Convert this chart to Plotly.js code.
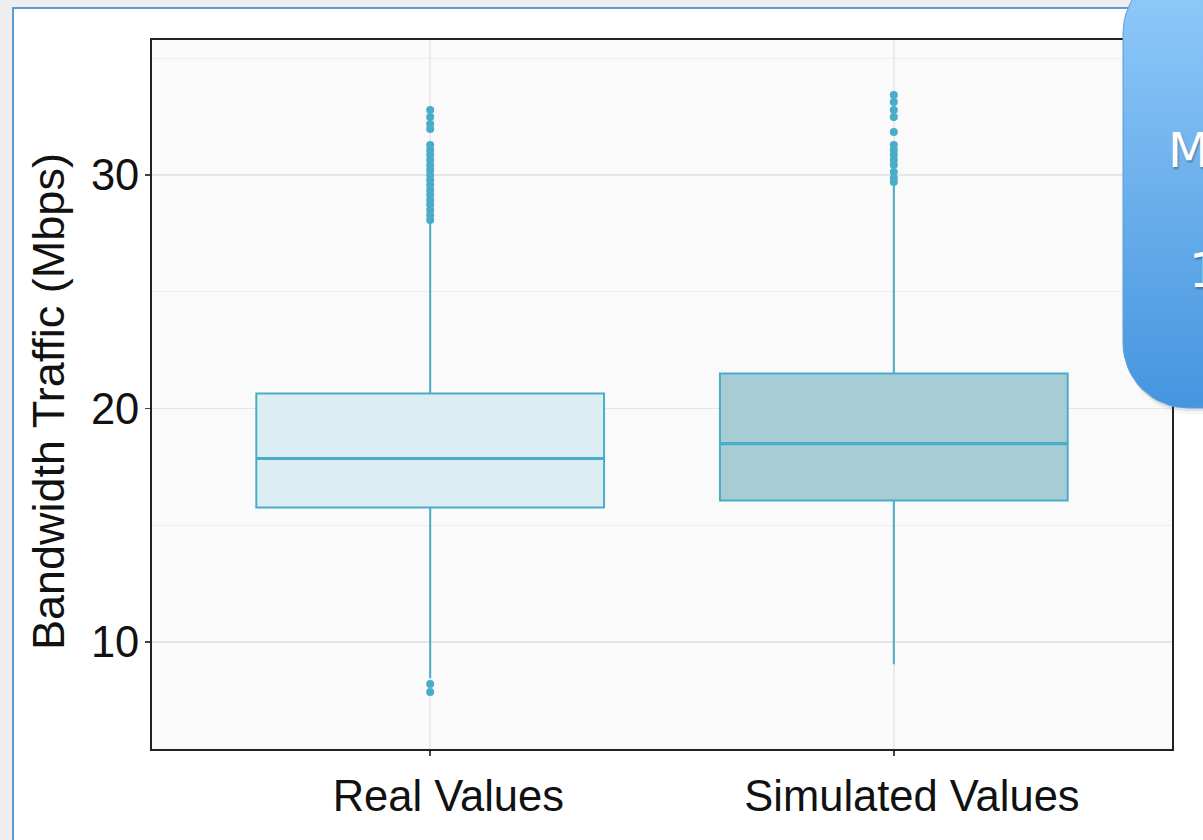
<!DOCTYPE html>
<html>
<head>
<meta charset="utf-8">
<script src="https://cdn.plot.ly/plotly-3.0.1.min.js"></script>
<style>
  html, body { margin: 0; padding: 0; background: #ffffff; }
  #chart { width: 1203px; height: 840px; }
</style>
</head>
<body>
<div id="chart"></div>
<script>
// Bandwidth traffic box statistics (Mbps)
const categories = ['Real Values', 'Simulated Values'];
const q1Values = [15.76, 16.06];
const medianValues = [17.86, 18.5];
const q3Values = [20.64, 21.5];
const lowerWhisker = [8.45, 9.05];
const upperWhisker = [27.95, 29.55];

// Observations beyond the whiskers
const realOutliers = [32.78, 32.48, 32.18, 31.97, 31.28, 31.07, 30.86, 30.64, 30.43,
  30.21, 30.0, 29.79, 29.57, 29.36, 29.14, 28.93, 28.72, 28.5, 28.29, 28.07, 8.2, 7.86];
const simulatedOutliers = [33.43, 33.13, 32.78, 32.48, 31.84, 31.28, 31.07, 30.86,
  30.64, 30.43, 30.13, 29.87, 29.7];

const yTicks = [10, 20, 30];
const yMinorTicks = [15, 25, 35];
const yTitle = 'Bandwidth Traffic (Mbps)';
const outliers = [realOutliers, simulatedOutliers];

const boxFills = ['#DCEEF4', '#A7CCD6'];
const boxLine = '#49ADC7';
const textFont = 'Liberation Sans, Arial, sans-serif';
const pad = '\u00A0\u00A0\u00A0';

const W = 1203, H = 840;

const traces = [];
categories.forEach((cat, i) => {
  // box with whiskers
  traces.push({
    type: 'box',
    x: [cat],
    q1: [q1Values[i]],
    median: [medianValues[i]],
    q3: [q3Values[i]],
    lowerfence: [lowerWhisker[i]],
    upperfence: [upperWhisker[i]],
    width: 0.75,
    whiskerwidth: 0,
    fillcolor: boxFills[i],
    line: { color: boxLine, width: 2 },
    boxpoints: false,
    hoverinfo: 'skip',
    showlegend: false,
    xaxis: 'x', yaxis: 'y'
  });
  // heavier median stroke
  traces.push({
    type: 'box',
    x: [cat],
    q1: [medianValues[i]],
    median: [medianValues[i]],
    q3: [medianValues[i]],
    lowerfence: [medianValues[i]],
    upperfence: [medianValues[i]],
    width: 0.75,
    whiskerwidth: 0,
    fillcolor: 'rgba(0,0,0,0)',
    line: { color: boxLine, width: 3.2 },
    boxpoints: false,
    hoverinfo: 'skip',
    showlegend: false,
    xaxis: 'x', yaxis: 'y'
  });
  traces.push({
    type: 'scatter',
    mode: 'markers',
    x: outliers[i].map(() => cat),
    y: outliers[i],
    marker: { color: boxLine, size: 8 },
    hoverinfo: 'skip',
    showlegend: false,
    xaxis: 'x', yaxis: 'y'
  });
});

// Rounded callout panel in the top-right corner (pixel space on x2/y2)
function roundedRect(x0, y0, x1, y1, r) {
  const xs = [], ys = [];
  const corners = [
    [x1 - r, y0 + r, -Math.PI / 2, 0],
    [x1 - r, y1 - r, 0, Math.PI / 2],
    [x0 + r, y1 - r, Math.PI / 2, Math.PI],
    [x0 + r, y0 + r, Math.PI, 1.5 * Math.PI]
  ];
  corners.forEach(([cx, cy, a0, a1]) => {
    for (let k = 0; k <= 16; k++) {
      const a = a0 + (a1 - a0) * k / 16;
      xs.push(cx + r * Math.cos(a));
      ys.push(cy + r * Math.sin(a));
    }
  });
  xs.push(xs[0]); ys.push(ys[0]);
  return { xs, ys };
}

const callout = { x0: 1123, y0: -32, x1: 1300, y1: 408, r: 65 };
[[6, 'rgba(60,70,90,0.06)'], [3, 'rgba(60,70,90,0.12)']].forEach(([off, col]) => {
  const p = roundedRect(callout.x0 + off * 0.4, callout.y0 + off, callout.x1, callout.y1 + off, callout.r);
  traces.push({
    type: 'scatter', mode: 'lines', x: p.xs, y: p.ys, fill: 'toself',
    fillcolor: col, line: { width: 0 }, hoverinfo: 'skip', showlegend: false,
    xaxis: 'x2', yaxis: 'y2'
  });
});
const panel = roundedRect(callout.x0, callout.y0, callout.x1, callout.y1, callout.r);
traces.push({
  type: 'scatter', mode: 'lines', x: panel.xs, y: panel.ys, fill: 'toself',
  fillgradient: { type: 'vertical', colorscale: [[0, '#4595DF'], [1, '#93CBFA']] },
  line: { color: '#5D9DDA', width: 1 }, hoverinfo: 'skip', showlegend: false,
  xaxis: 'x2', yaxis: 'y2'
});

const layout = {
  width: W, height: H,
  margin: { l: 0, r: 0, t: 0, b: 0 },
  paper_bgcolor: '#EEEEEE',
  plot_bgcolor: 'rgba(0,0,0,0)',
  showlegend: false,
  font: { family: textFont, color: '#111111' },
  xaxis: {
    type: 'category',
    categoryarray: categories,
    tickvals: categories,
    ticktext: categories.map(c => pad + c),
    range: [-0.6, 1.6],
    domain: [152 / W, 1172 / W],
    showgrid: true, gridcolor: '#EAEAEA', gridwidth: 1.5,
    zeroline: false,
    showline: true, mirror: true, linecolor: '#222222', linewidth: 2,
    ticks: 'outside', ticklen: 5, tickwidth: 1.5, tickcolor: '#444444',
    tickfont: { family: textFont, size: 43.5, color: '#111111' },
    ticklabelstandoff: 3,
    fixedrange: true
  },
  yaxis: {
    range: [5.42, 35.78],
    domain: [1 - 749 / H, 1 - 40 / H],
    tickvals: yTicks,
    showgrid: true, gridcolor: '#E6E6E6', gridwidth: 1.5,
    minor: { tickvals: yMinorTicks, showgrid: true, gridcolor: '#EEEEEE', gridwidth: 1, ticklen: 0 },
    zeroline: false,
    showline: true, mirror: true, linecolor: '#222222', linewidth: 2,
    ticks: 'outside', ticklen: 5, tickwidth: 1.5, tickcolor: '#444444',
    tickfont: { family: textFont, size: 43.5, color: '#111111' },
    ticklabelstandoff: -3,
    fixedrange: true
  },
  xaxis2: { domain: [0, 1], range: [0, W], visible: false, fixedrange: true, anchor: 'y2' },
  yaxis2: { domain: [0, 1], range: [H, 0], visible: false, fixedrange: true, anchor: 'x2' },
  shapes: [
    // white page with blue frame
    { type: 'rect', xref: 'paper', yref: 'paper', x0: 13 / W, x1: 1.05, y0: 1 - 8 / H, y1: -0.05,
      fillcolor: '#FFFFFF', line: { color: '#5B9BD9', width: 2 }, layer: 'below' },
    // plotting panel background
    { type: 'rect', xref: 'x domain', yref: 'y domain', x0: 0, x1: 1, y0: 0, y1: 1,
      fillcolor: '#FAFAFA', line: { width: 0 }, layer: 'below' }
  ],
  annotations: [
    // y-axis title
    { xref: 'paper', yref: 'paper', x: 48 / W, y: 1 - 402 / H, xanchor: 'center', yanchor: 'middle',
      text: yTitle, textangle: -90, showarrow: false,
      font: { family: textFont, size: 45, color: '#111111' } },
    { xref: 'x2', yref: 'y2', x: 1166, y: 150, xanchor: 'left', yanchor: 'middle', text: 'M', showarrow: false,
      font: { family: 'DejaVu Sans, Verdana, sans-serif', size: 48, color: '#FFFFFF', shadow: '1px 2px 2px rgba(0,0,0,0.3)' } },
    { xref: 'x2', yref: 'y2', x: 1187, y: 270, xanchor: 'left', yanchor: 'middle', text: '1', showarrow: false,
      font: { family: 'DejaVu Sans, Verdana, sans-serif', size: 48, color: '#FFFFFF', shadow: '1px 2px 2px rgba(0,0,0,0.3)' } }
  ]
};

Plotly.newPlot('chart', traces, layout, { staticPlot: true, displayModeBar: false });
</script>
</body>
</html>
